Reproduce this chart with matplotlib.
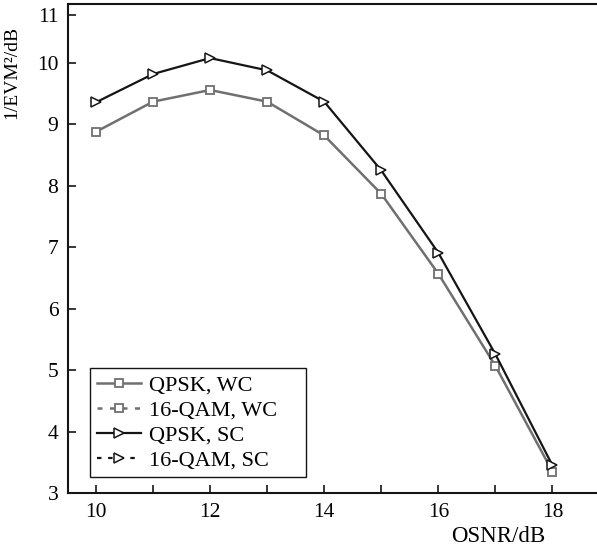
import matplotlib
matplotlib.use("Agg")
import matplotlib.pyplot as plt
from matplotlib.lines import Line2D

# OSNR sweep and measured 1/EVM^2 values
osnr = [10, 11, 12, 13, 14, 15, 16, 17, 18]
qpsk_wc = [8.88, 9.37, 9.56, 9.37, 8.82, 7.87, 6.57, 5.07, 3.35]
qpsk_sc = [9.36, 9.82, 10.08, 9.88, 9.37, 8.25, 6.91, 5.26, 3.45]

yticks = [3, 4, 5, 6, 7, 8, 9, 10, 10.78]
ytick_labels = ["3", "4", "5", "6", "7", "8", "9", "10", "11"]
xticks = [10, 12, 14, 16, 18]
xminor = [11, 13, 15, 17]

plt.rcParams["font.family"] = ["Liberation Serif", "DejaVu Serif"]

gray = "#707070"
black = "#151515"

fig = plt.figure(figsize=(5.97, 5.56), dpi=100)
ax = fig.add_axes([0.1139, 0.1133, 0.886, 0.8795])

ax.plot(osnr, qpsk_wc, color=gray, lw=1.8, marker="s", ms=5.5,
        mfc="white", mec=gray, mew=1.3)
ax.plot(osnr, qpsk_sc, color=black, lw=1.6, marker=">", ms=6.5,
        mfc="white", mec=black, mew=1.1)

ax.set_xlim(9.51, 18.78)
ax.set_ylim(3, 10.96)
ax.set_xticks(xticks)
ax.set_xticks(xminor, minor=True)
ax.set_yticks(yticks, ytick_labels)
ax.tick_params(axis="both", which="both", direction="in", length=6,
               width=1.2, labelsize=15.5, color=black)
ax.tick_params(axis="x", pad=7)
ax.tick_params(axis="y", pad=7)

for side in ["left", "bottom", "top"]:
    ax.spines[side].set_linewidth(1.5)
    ax.spines[side].set_color(black)
ax.spines["right"].set_visible(False)

ax.set_xlabel("OSNR/dB", fontsize=16.5)
ax.xaxis.set_label_coords(0.813, -0.068)
ax.set_ylabel("1/EVM²/dB", fontsize=14)
ax.yaxis.set_label_coords(-0.091, 0.86)

handles = [
    Line2D([], [], color=gray, lw=1.8, marker="s", ms=5.5, mfc="white", mec=gray, mew=1.3),
    Line2D([], [], color=gray, lw=1.8, ls=(0, (2, 3)), marker="s", ms=5.5, mfc="white", mec=gray, mew=1.3),
    Line2D([], [], color=black, lw=1.6, marker=">", ms=6.5, mfc="white", mec=black, mew=1.1),
    Line2D([], [], color=black, lw=1.6, ls=(0, (2, 3)), marker=">", ms=6.5, mfc="white", mec=black, mew=1.1),
]
labels = ["QPSK, WC", "16-QAM, WC", "QPSK, SC", "16-QAM, SC"]
leg = ax.legend(handles, labels, loc="lower left",
                bbox_to_anchor=(0.0416, 0.0327, 0.408, 0.2), mode="expand",
                borderaxespad=0, fancybox=False, framealpha=1, edgecolor=black,
                fontsize=16, handlelength=2.0, handletextpad=0.37,
                labelspacing=0.2, borderpad=0.3)
leg.get_frame().set_linewidth(1.0)

fig.savefig("out.png", dpi=100)
